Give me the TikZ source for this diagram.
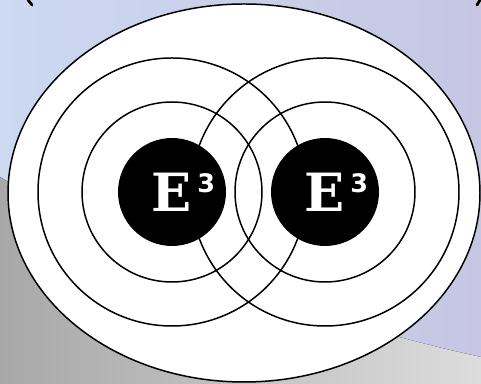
\documentclass[tikz,border=0pt]{standalone}
\usepackage{fontspec}
\newfontfamily\slabfont{DejaVu Serif}
\newfontfamily\digitfont{DejaVu Sans}
\definecolor{skyleft}{HTML}{CCD9F0}
\definecolor{skyright}{HTML}{C6C6E3}
\definecolor{floorleft}{HTML}{A8A8A8}
\definecolor{floorright}{HTML}{DCDCDC}
\tikzset{
	ring/.style={line width=0.85pt},
	core/.style={circle, fill=black, minimum size=2.16cm, inner sep=0pt, text=white,
		font=\slabfont\bfseries\fontsize{30}{31}\selectfont},
}
\newcommand{\ecube}{E\rlap{\hspace{3pt}\raisebox{10.4pt}{\digitfont\bfseries\fontsize{14.5}{15}\selectfont 3}}}
\begin{document}
\begin{tikzpicture}[x=0.02cm, y=-0.02cm]
	\useasboundingbox (0,0) rectangle (481,384);
	
	% Background
	\fill[left color=skyleft, right color=skyright] (0,0) rectangle (481,384);
	\fill[left color=floorleft, right color=floorright] (0,177) .. controls (100,237) and (300,318) .. (481,357) -- (481,384) -- (0,384) -- cycle;
	\draw[line width=1.6pt, line cap=round] (28,0) -- (32,5);
	\draw[line width=1.6pt, line cap=round] (480,0) -- (477,5);
	
	% Field
	\draw[ring, fill=white] (244,193) ellipse [x radius=236, y radius=189];
	
	\node[core] (eleft) at (172,192) {\ecube};
	\node[core] (eright) at (325,192) {\ecube};
	
	% Rings left
	\draw[ring] (eleft.center) circle [radius=90];
	\draw[ring] (eleft.center) circle [radius=134];
	
	% Rings right
	\draw[ring] (eright.center) circle [radius=90];
	\draw[ring] (eright.center) circle [radius=134];
\end{tikzpicture}
\end{document}
